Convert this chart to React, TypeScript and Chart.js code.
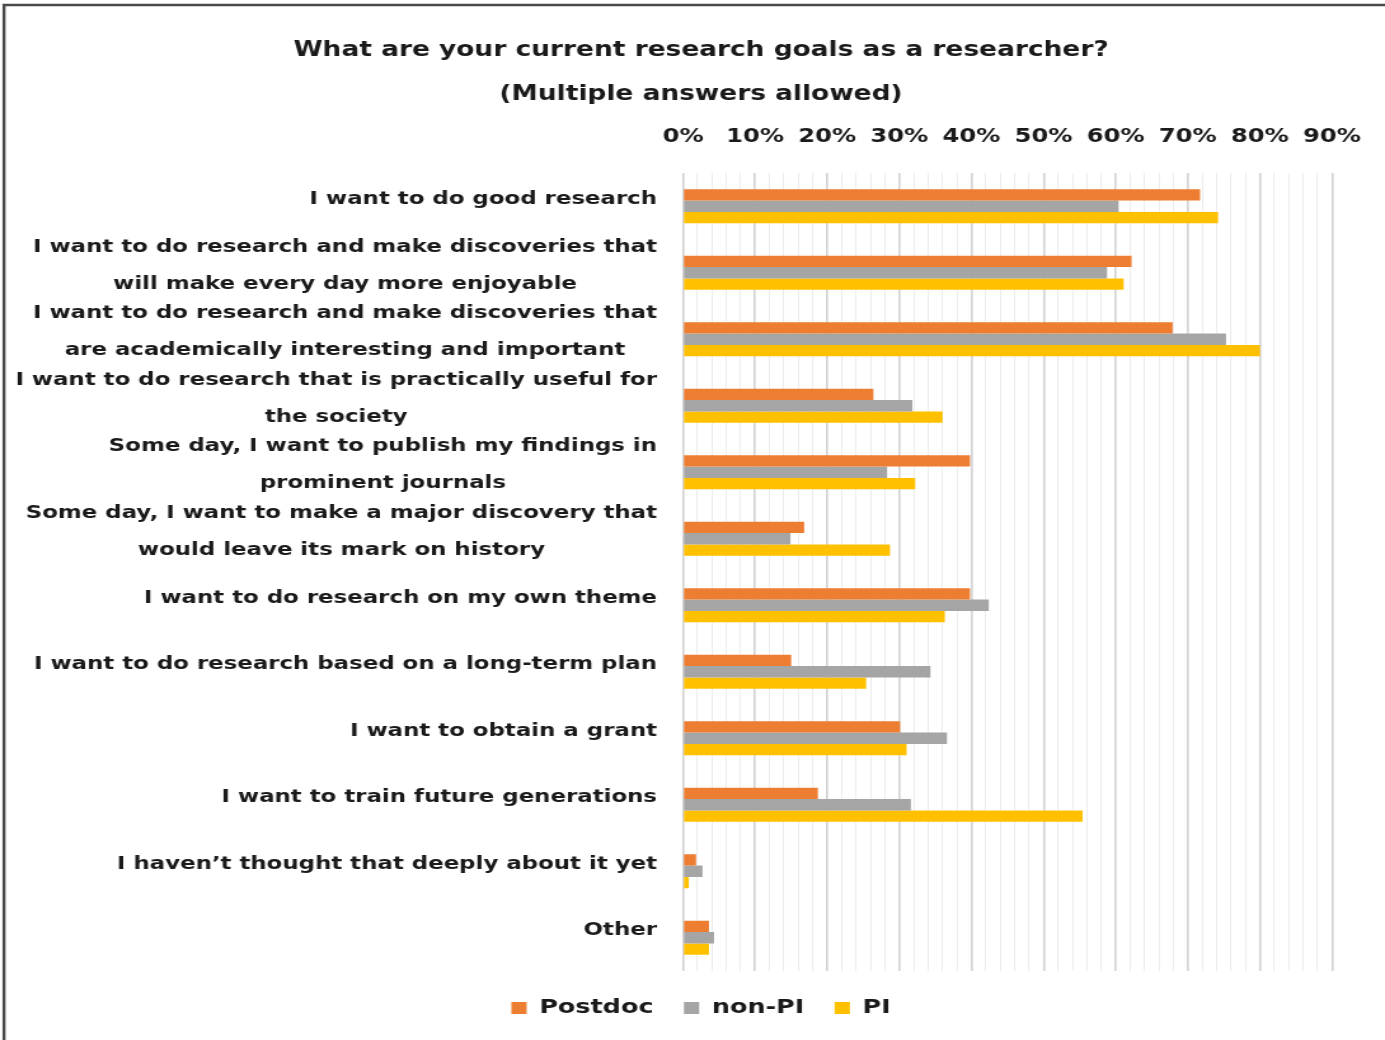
import React, { useEffect, useRef } from "react";
import { Chart, registerables } from "chart.js";

Chart.register(...registerables);

// ---- data ----
const categories: string[][] = [
  ["I want to do good research"],
  ["I want to do research and make discoveries that", "will make every day more enjoyable"],
  ["I want to do research and make discoveries that", "are academically interesting and important"],
  ["I want to do research that is practically useful for", "the society"],
  ["Some day, I want to publish my findings in", "prominent journals"],
  ["Some day, I want to make a major discovery that", "would leave its mark on history"],
  ["I want to do research on my own theme"],
  ["I want to do research based on a long-term plan"],
  ["I want to obtain a grant"],
  ["I want to train future generations"],
  ["I haven\u2019t thought that deeply about it yet"],
  ["Other"],
];
const postdoc = [71.7, 62.2, 67.9, 26.4, 39.8, 16.8, 39.8, 15.0, 30.1, 18.7, 1.8, 3.6];
const nonPI = [60.4, 58.8, 75.3, 31.8, 28.3, 14.9, 42.4, 34.3, 36.6, 31.6, 2.7, 4.3];
const pi = [74.2, 61.1, 80.0, 36.0, 32.2, 28.7, 36.3, 25.4, 31.0, 55.4, 0.8, 3.6];
const seriesNames = ["Postdoc", "non-PI", "PI"];
const titleLines = ["What are your current research goals as a researcher?", "(Multiple answers allowed)"];
const xMin = 0;
const xMax = 90;
const xStep = 2;
const xMajor = 10;

// ---- styling / layout ----
const SCREEN_W = 1385;
const SCREEN_H = 1040;
const STRETCH = 1.2706;
const CANVAS_W = Math.round(SCREEN_W / STRETCH);
const FONT = "'DejaVu Sans', 'Verdana', sans-serif";
const COLORS = ["#ED7D31", "#A5A5A5", "#FFC000"];
const LABEL_RIGHT = 657 / STRETCH;
const AREA_LEFT = 683 / STRETCH;
const AREA_RIGHT = 1332 / STRETCH;
const PAD_LEFT = 2 * (701 / STRETCH) - AREA_RIGHT;

const decor = {
  id: "decor",
  beforeDraw(chart: any) {
    const ctx = chart.ctx;
    ctx.save();
    ctx.strokeStyle = "#4a4a4a";
    ctx.lineWidth = 2.4;
    ctx.beginPath();
    ctx.moveTo(4 / STRETCH, chart.height);
    ctx.lineTo(4 / STRETCH, 5);
    ctx.lineTo(chart.width, 5);
    ctx.stroke();
    ctx.restore();
  },
  afterDraw(chart: any) {
    const ctx = chart.ctx;
    const yScale = chart.scales.y;
    ctx.save();
    ctx.font = `bold 18px ${FONT}`;
    ctx.fillStyle = "#1a1a1a";
    ctx.textAlign = "center";
    ctx.textBaseline = "middle";
    (chart.data.labels as any[]).forEach((lab, i) => {
      const lines: string[] = Array.isArray(lab) ? lab : [String(lab)];
      const w = Math.max(...lines.map((l) => ctx.measureText(l).width));
      const cx = LABEL_RIGHT - w / 2;
      const cy = yScale.getPixelForValue(i) - 7;
      lines.forEach((l, j) => {
        ctx.fillText(l, cx, cy + (j - (lines.length - 1) / 2) * 37);
      });
    });
    ctx.restore();
  },
};

export default function App() {
  const ref = useRef<HTMLCanvasElement | null>(null);

  useEffect(() => {
    document.body.style.margin = "0";
    const canvas = ref.current;
    if (!canvas) return;
    const chart = new Chart(canvas, {
      type: "bar",
      data: {
        labels: categories,
        datasets: [postdoc, nonPI, pi].map((d, i) => ({
          label: seriesNames[i],
          data: d,
          backgroundColor: COLORS[i],
          borderWidth: 0,
          barPercentage: 1,
          categoryPercentage: 0.515,
        })),
      },
      options: {
        indexAxis: "y",
        responsive: false,
        animation: false,
        devicePixelRatio: 1,
        layout: {
          padding: { left: PAD_LEFT, right: CANVAS_W - AREA_RIGHT, top: 29, bottom: 12 },
        },
        scales: {
          x: {
            position: "top",
            min: xMin,
            max: xMax,
            ticks: {
              stepSize: xStep,
              autoSkip: false,
              maxRotation: 0,
              minRotation: 0,
              padding: 24.6,
              color: "#1a1a1a",
              font: { family: FONT, size: 19, weight: "bold" },
              callback: (v: any) => (Number(v) % xMajor === 0 ? `${v}%` : ""),
            },
            grid: {
              drawTicks: false,
              color: (c: any) => (c.tick && c.tick.value % xMajor === 0 ? "#d2d2d2" : "#ececec"),
              lineWidth: (c: any) => (c.tick && c.tick.value % xMajor === 0 ? 1.6 : 1),
            },
            border: { display: false },
            afterFit: (s: any) => {
              s.height = 56;
              s.paddingLeft = 0;
              s.paddingRight = 0;
            },
          },
          y: {
            type: "category",
            ticks: { display: false },
            grid: { display: false },
            border: { display: false },
            afterFit: (s: any) => {
              s.width = AREA_LEFT - PAD_LEFT;
            },
          },
        },
        plugins: {
          title: {
            display: true,
            text: titleLines,
            color: "#1a1a1a",
            font: { family: FONT, size: 20.8, weight: "bold", lineHeight: 44 / 20.8 },
            padding: { top: 0, bottom: 0 },
          },
          legend: {
            position: "bottom",
            title: { display: true, text: "", padding: 0, font: { size: 3, lineHeight: 1 } },
            labels: {
              color: "#1a1a1a",
              font: { family: FONT, size: 20, weight: "bold" },
              boxWidth: 12,
              boxHeight: 12,
              padding: 24,
            },
          },
          tooltip: { enabled: false },
        },
      },
      plugins: [decor],
    } as any);
    return () => chart.destroy();
  }, []);

  return (
    <canvas
      ref={ref}
      width={CANVAS_W}
      height={SCREEN_H}
      style={{ display: "block", width: `${SCREEN_W}px`, height: `${SCREEN_H}px` }}
    />
  );
}
